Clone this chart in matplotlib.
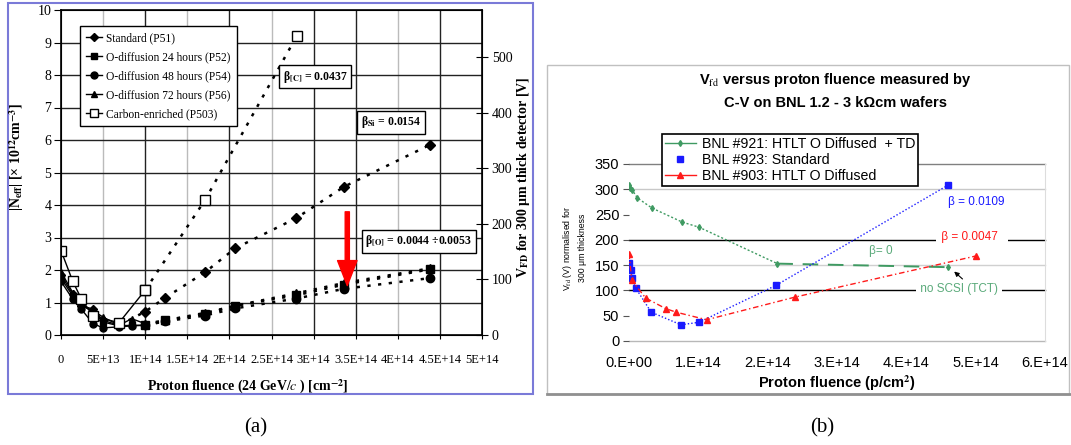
import matplotlib
matplotlib.use("Agg")
import matplotlib.pyplot as plt
from matplotlib.lines import Line2D
from matplotlib.patches import Rectangle

plt.rcParams['mathtext.fontset'] = 'stix'

W, H = 1071, 445

# ---------------- data: panel (a), fluence in 1E+14 cm^-2 ----------------
x_p51 = [0, 0.14, 0.24, 0.38, 0.5, 0.69, 1.0, 1.24, 1.71, 2.07, 2.79, 3.36, 4.38]
y_p51 = [1.85, 1.25, 0.9, 0.8, 0.45, 0.3, 0.72, 1.15, 1.93, 2.67, 3.59, 4.56, 5.85]
x_oxy = [0, 0.14, 0.24, 0.38, 0.5, 0.69, 0.84, 1.0, 1.24, 1.71, 2.07, 2.79, 3.36, 4.38]
y_p52 = [1.75, 1.2, 0.95, 0.7, 0.4, 0.28, 0.3, 0.3, 0.45, 0.65, 0.9, 1.22, 1.55, 2.02]
y_p54 = [1.65, 1.1, 0.8, 0.35, 0.22, 0.25, 0.28, 0.3, 0.42, 0.6, 0.82, 1.12, 1.42, 1.75]
y_p56 = [1.95, 1.3, 0.9, 0.75, 0.55, 0.3, 0.5, 0.35, 0.45, 0.68, 0.9, 1.28, 1.6, 2.05]
x_p503 = [0, 0.14, 0.24, 0.38, 0.69, 1.0, 1.71, 2.8]
y_p503 = [2.6, 1.65, 1.12, 0.58, 0.38, 1.38, 4.15, 9.2]
labels_a = ['Standard (P51)', 'O-diffusion 24 hours (P52)', 'O-diffusion 48 hours (P54)',
            'O-diffusion 72 hours (P56)', 'Carbon-enriched (P503)']
xticks_a = ['0', '5E+13', '1E+14', '1.5E+14', '2E+14', '2.5E+14', '3E+14', '3.5E+14',
            '4E+14', '4.5E+14', '5E+14']

# ---------------- data: panel (b) ----------------
x_921 = [0.0, 0.02, 0.05, 0.12, 0.33, 0.77, 1.01, 2.14]
y_921 = [308, 303, 298, 283, 263, 235, 225, 153]
x_921_tct = [2.14, 4.6]
y_921_tct = [153, 146]
x_923 = [0.0, 0.03, 0.05, 0.1, 0.32, 0.75, 1.01, 2.12, 4.6]
y_923 = [154, 140, 124, 104, 57, 32, 37, 110, 308]
x_903 = [0.0, 0.04, 0.24, 0.53, 0.68, 1.12, 2.4, 5.0]
y_903 = [173, 120, 85, 64, 57, 42, 87, 168]
labels_b = ['BNL #921: HTLT O Diffused  + TD', 'BNL #923: Standard', 'BNL #903: HTLT O Diffused']
xticks_b = ['0.E+00', '1.E+14', '2.E+14', '3.E+14', '4.E+14', '5.E+14', '6.E+14']


def fx(px):
    return px / W


def fy(py):
    return 1 - py / H


fig = plt.figure(figsize=(W / 100, H / 100), dpi=100)

# panel frames
fig.add_artist(Rectangle((fx(8), fy(394)), 525 / W, 391 / H, transform=fig.transFigure,
                         fill=False, ec='#7a7ad8', lw=1.5))
fig.add_artist(Rectangle((fx(547), fy(394)), 522 / W, 329 / H, transform=fig.transFigure,
                         fill=False, ec='#c0c0c0', lw=1.0))
fig.add_artist(Line2D([fx(547), fx(1070)], [fy(394), fy(394)], transform=fig.transFigure,
                      color='#909090', lw=2))

serif = 'Liberation Serif'
sans = 'Liberation Sans'

# ================= panel (a) =================
ax1 = fig.add_axes([fx(61), fy(335), 421 / W, 325 / H])
ax1.set_xlim(0, 5)
ax1.set_ylim(0, 10)
vcols = ['#bbbbbb', '#222222', '#bbbbbb', '#222222', '#bbbbbb', '#222222', '#222222', '#bbbbbb', '#222222']
for i, c in enumerate(vcols):
    ax1.axvline(0.5 * (i + 1), color=c, lw=1, zorder=0)
for v in range(1, 10):
    ax1.axhline(v, color='#222222', lw=1, zorder=0)

dots = (0, (1.3, 3))
msz = 5
ax1.plot(x_p51[:6], y_p51[:6], '-', color='k', marker='D', ms=msz - 1, lw=1)
ax1.plot(x_p51[5:], y_p51[5:], color='k', ls=dots, lw=1.8, marker='D', ms=msz)
ax1.plot(x_oxy[:8], y_p52[:8], '-', color='k', marker='s', ms=msz, lw=1)
ax1.plot(x_oxy[7:], y_p52[7:], color='k', ls=dots, lw=1.8, marker='s', ms=msz + 1)
ax1.plot(x_oxy[:8], y_p54[:8], '-', color='k', marker='o', ms=msz, lw=1)
ax1.plot(x_oxy[7:], y_p54[7:], color='k', ls=dots, lw=1.8, marker='o', ms=msz + 1)
ax1.plot(x_oxy[:8], y_p56[:8], '-', color='k', marker='^', ms=msz, lw=1)
ax1.plot(x_oxy[7:], y_p56[7:], color='k', ls=dots, lw=1.8, marker='^', ms=msz + 1)
ax1.plot(x_p503[:6], y_p503[:6], '-', color='k', marker='s', mfc='white', ms=msz + 2, lw=1)
ax1.plot(x_p503[5:], y_p503[5:], color='k', ls=dots, lw=1.8, marker='s', mfc='white', ms=msz + 2)

handles_a = [Line2D([], [], color='k', marker=m, mfc=f, ms=s, lw=1)
             for m, f, s in [('D', 'k', 4), ('s', 'k', 5), ('o', 'k', 5), ('^', 'k', 5), ('s', 'white', 6)]]
leg1 = ax1.legend(handles_a, labels_a, loc='upper left',
                  bbox_to_anchor=(fx(80), fy(26)), bbox_transform=fig.transFigure,
                  prop={'family': serif, 'size': 8.3}, frameon=True, fancybox=False,
                  edgecolor='k', framealpha=1, handlelength=1.4, handletextpad=0.3,
                  labelspacing=0.6, borderpad=0.55, borderaxespad=0)
leg1.get_frame().set_linewidth(1)

box = dict(boxstyle='square,pad=0.3', fc='white', ec='k', lw=1)
ax1.text(3.02, 7.94, r'β$_{\mathbf{[C]}}$ = 0.0437', ha='center', va='center', fontsize=8.5,
         family=serif, fontweight='bold', bbox=box)
ax1.text(3.92, 6.55, r'β$_{\mathbf{Si}}$ = 0.0154', ha='center', va='center', fontsize=8.5,
         family=serif, fontweight='bold', bbox=box)
ax1.text(4.25, 2.89, r'β$_{\mathbf{[O]}}$ = 0.0044 ÷0.0053', ha='center', va='center', fontsize=8.5,
         family=serif, fontweight='bold', bbox=box)
ax1.annotate('', xy=(3.4, 1.52), xytext=(3.4, 3.79),
             arrowprops=dict(facecolor='red', edgecolor='red', width=3, headwidth=14, headlength=18))

ax1.set_xticks([0.5 * i for i in range(11)])
ax1.set_xticklabels(xticks_a, family=serif, fontsize=9)
ax1.set_yticks(range(11))
ax1.set_yticklabels([str(v) for v in range(11)], family=serif, fontsize=10)
ax1.tick_params(axis='x', length=3, pad=11)
ax1.tick_params(axis='y', length=5, pad=2)
for s in ax1.spines.values():
    s.set_linewidth(1.2)

ax1b = ax1.twinx()
ax1b.set_ylim(0, 585)
ax1b.set_yticks(range(0, 501, 100))
ax1b.set_yticklabels([str(v) for v in range(0, 501, 100)], family=serif, fontsize=10)
ax1b.tick_params(axis='y', direction='inout', length=8, pad=3)

fig.text(fx(17), fy(157), r'|N$_{\mathbf{eff}}$| [× 10$^{\mathbf{12}}$cm$^{\mathbf{-3}}$]', rotation=90,
         ha='center', va='center', family=serif, fontweight='bold', fontsize=10)
fig.text(fx(524), fy(177), r'V$_{\mathbf{FD}}$ for 300 μm thick detector [V]', rotation=90,
         ha='center', va='center', family=serif, fontweight='bold', fontsize=10)
fig.text(fx(248), fy(387), r'Proton fluence (24 GeV/$c$ ) [cm$^{\mathbf{-2}}$]',
         ha='center', va='center', family=serif, fontweight='bold', fontsize=10)

# ================= panel (b) =================
ax2 = fig.add_axes([fx(629), fy(341), 416 / W, 177 / H])
ax2.set_xlim(0, 6)
ax2.set_ylim(0, 350)
for v, c in [(0, '#b8b8b8'), (100, '#000000'), (150, '#d0d0d0'), (200, '#000000'),
             (300, '#c8c8c8'), (350, '#808080')]:
    ax2.axhline(v, color=c, lw=1, zorder=0, clip_on=False)
for k in ['left', 'top', 'bottom']:
    ax2.spines[k].set_visible(False)
ax2.spines['right'].set_color('#dddddd')

green = '#3f9a62'
blue = '#1a1aff'
red = '#ff1a1a'
ax2.plot(x_921, y_921, color=green, ls=(0, (1.5, 1.5)), lw=1, marker='d', ms=3)
ax2.plot(x_921_tct, y_921_tct, color=green, ls=(0, (8, 5)), lw=1.4)
ax2.plot(x_921_tct[-1:], y_921_tct[-1:], color=green, marker='d', ms=3)
ax2.plot(x_923, y_923, color=blue, ls=(0, (1, 1.5)), lw=1, marker='s', ms=4.5)
ax2.plot(x_903, y_903, color=red, ls=(0, (4, 2, 1, 2)), lw=1, marker='^', ms=5)

handles_b = [Line2D([], [], color=green, marker='d', ms=3, lw=1),
             Line2D([], [], color=blue, marker='s', ms=4, lw=0),
             Line2D([], [], color=red, marker='^', ms=4.5, lw=1)]
leg2 = ax2.legend(handles_b, labels_b, loc='upper left',
                  bbox_to_anchor=(fx(662), fy(134)), bbox_transform=fig.transFigure,
                  prop={'family': sans, 'size': 10.2}, frameon=True, fancybox=False,
                  edgecolor='k', framealpha=1, handlelength=2.2, handletextpad=0.4,
                  labelspacing=0.15, borderpad=0.2, borderaxespad=0)
leg2.get_frame().set_linewidth(1.2)

ax2.text(4.6, 275, 'β = 0.0109', color=blue, fontsize=8.5, family=sans, ha='left', va='center')
ax2.text(4.45, 205, ' β = 0.0047   ', color=red, fontsize=8.5, family=sans, ha='left', va='center',
         bbox=dict(boxstyle='square,pad=0.1', fc='white', ec='none'))
ax2.text(3.46, 178, 'β= 0', color='#5aaa7a', fontsize=8.5, family=sans, ha='left', va='center')
ax2.text(4.76, 102, ' no SCSI (TCT) ', color='#5aaa7a', fontsize=8.5, family=sans, ha='center',
         va='center', bbox=dict(boxstyle='square,pad=0.1', fc='white', ec='none'))
ax2.annotate('', xy=(4.66, 141), xytext=(4.84, 119),
             arrowprops=dict(arrowstyle='-|>', color='k', lw=0.8, mutation_scale=7))

ax2.set_xticks(range(7))
ax2.set_xticklabels(xticks_b, family=sans, fontsize=10.5)
ax2.set_yticks(range(0, 351, 50))
ax2.set_yticklabels([str(v) for v in range(0, 351, 50)], family=sans, fontsize=10.5)
ax2.tick_params(axis='x', length=0, pad=11)
ax2.tick_params(axis='y', length=4, color='#555555', pad=3)

fig.text(fx(835), fy(80), r'V$_{\mathrm{fd}}$ versus proton fluence measured by', ha='center', va='center',
         family=sans, fontweight='bold', fontsize=10.5)
fig.text(fx(835), fy(103), 'C-V on BNL 1.2 - 3 kΩcm wafers', ha='center', va='center',
         family=sans, fontweight='bold', fontsize=10.5)
fig.text(fx(837), fy(383), r'Proton fluence (p/cm$^{\mathbf{2}}$)', ha='center', va='center',
         family=sans, fontweight='bold', fontsize=10.5)
fig.text(fx(574), fy(248), 'V$_{\\mathrm{fd}}$ (V) normalised for\n300 μm thickness', rotation=90,
         ha='center', va='center', family=sans, fontsize=6.3, linespacing=1.5)

# sub-figure captions
fig.text(fx(256), fy(428), '(a)', ha='center', va='center', family=serif, fontsize=15)
fig.text(fx(822), fy(428), '(b)', ha='center', va='center', family=serif, fontsize=15)

fig.savefig('out.png', dpi=100)
